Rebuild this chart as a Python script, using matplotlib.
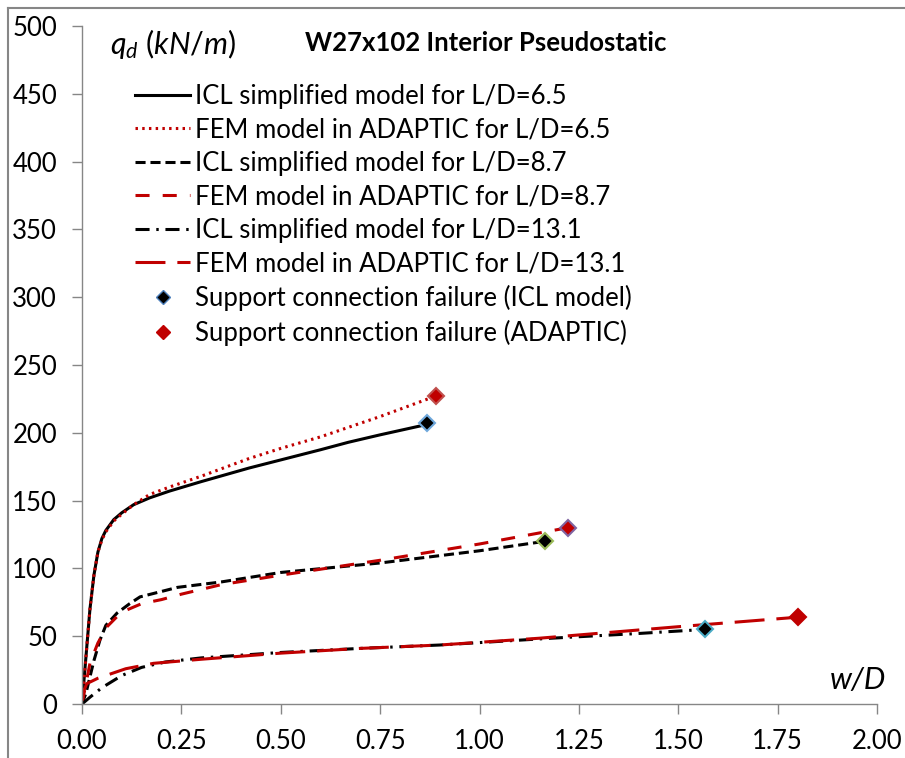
import numpy as np
import matplotlib
matplotlib.use("Agg")
import matplotlib.pyplot as plt
from matplotlib.lines import Line2D

plt.rcParams['font.family'] = ['Lato', 'DejaVu Sans']
plt.rcParams['mathtext.fontset'] = 'custom'
plt.rcParams['mathtext.it'] = 'Lato:italic'
plt.rcParams['mathtext.rm'] = 'Lato'

# curves (w/D, q_d in kN/m)
icl65_x = [0, 0.01, 0.02, 0.03, 0.04, 0.05, 0.06, 0.08, 0.10, 0.13, 0.17, 0.22, 0.30, 0.42, 0.50, 0.60, 0.67, 0.75, 0.85, 0.865]
icl65_y = [0, 35, 70, 95, 112, 122, 128, 136, 141, 147, 152, 157, 164, 174, 180, 187.5, 193, 198.5, 205, 206]
fem65_x = [0, 0.01, 0.02, 0.03, 0.04, 0.05, 0.06, 0.08, 0.10, 0.13, 0.17, 0.22, 0.30, 0.42, 0.50, 0.60, 0.67, 0.75, 0.875, 0.89]
fem65_y = [0, 35, 70, 95, 112, 121, 127, 135, 140, 147, 154.5, 160, 168, 181, 188.5, 197, 204, 212, 225.5, 227]

icl87_x = [0, 0.01, 0.02, 0.03, 0.045, 0.06, 0.088, 0.12, 0.146, 0.20, 0.24, 0.35, 0.50, 0.75, 1.0, 1.165]
icl87_y = [0, 8, 20, 32, 47, 58, 67, 74, 79, 83, 86, 90, 97, 104, 113, 120]
fem87_x = [0, 0.01, 0.02, 0.04, 0.063, 0.09, 0.11, 0.15, 0.20, 0.25, 0.35, 0.50, 0.75, 1.0, 1.222]
fem87_y = [0, 15, 30, 45, 57, 65, 69, 74, 77, 81, 88, 95, 106, 118, 130]

icl131_x = [0, 0.02, 0.05, 0.10, 0.15, 0.21, 0.30, 0.50, 0.70, 0.90, 1.18, 1.40, 1.567]
icl131_y = [0, 5, 12, 21, 27, 31, 34, 38, 41, 43.5, 48.5, 52, 55]
fem131_x = [0, 0.005, 0.012, 0.04, 0.07, 0.11, 0.18, 0.30, 0.50, 0.70, 0.90, 1.15, 1.50, 1.80]
fem131_y = [3, 10, 15, 19, 22, 26, 30, 33, 37.5, 41, 43.5, 48.5, 57, 64]

# support connection failure points
fail_icl_x = [0.868, 1.165, 1.567]
fail_icl_y = [207, 120, 55]
fail_icl_edge = ['#6fa8dc', '#9bbb59', '#4bacc6']
fail_fem_x = [0.89, 1.222, 1.80]
fail_fem_y = [227, 130, 64]
fail_fem_edge = ['#c0504d', '#8064a2', '#c00000']

labels = ["ICL simplified model for L/D=6.5",
          "FEM model in ADAPTIC for L/D=6.5",
          "ICL simplified model for L/D=8.7",
          "FEM model in ADAPTIC for L/D=8.7",
          "ICL simplified model for L/D=13.1",
          "FEM model in ADAPTIC for L/D=13.1",
          "Support connection failure (ICL model)",
          "Support connection failure (ADAPTIC)"]

red = '#c00000'
lw = 2.2

W, H = 905, 758
fig = plt.figure(figsize=(W / 100, H / 100), dpi=100)
ax = fig.add_axes([82 / W, 1 - 704 / H, (877 - 82) / W, (704 - 26) / H])

ax.plot(icl65_x, icl65_y, color='black', lw=lw, label=labels[0])
ax.plot(fem65_x, fem65_y, color=red, lw=lw, linestyle=(0, (0.8, 1.4)), label=labels[1])
ax.plot(icl87_x, icl87_y, color='black', lw=lw, linestyle=(0, (3.3, 1.6)), label=labels[2])
ax.plot(fem87_x, fem87_y, color=red, lw=lw, linestyle=(0, (4.6, 4.3)), label=labels[3])
ax.plot(icl131_x, icl131_y, color='black', lw=lw, linestyle=(0, (4.6, 2.2, 0.8, 2.2)), label=labels[4])
ax.plot(fem131_x, fem131_y, color=red, lw=lw, linestyle=(0, (9.8, 3.9)), label=labels[5])

for x, y, ec in zip(fail_icl_x, fail_icl_y, fail_icl_edge):
    ax.plot(x, y, marker='D', ms=8, mfc='black', mec=ec, mew=1.5, ls='none', zorder=5)
for x, y, ec in zip(fail_fem_x, fail_fem_y, fail_fem_edge):
    ax.plot(x, y, marker='D', ms=8, mfc=red, mec=ec, mew=1.5, ls='none', zorder=5)

ax.set_xlim(0, 2.0)
ax.set_ylim(0, 500)
ax.set_xticks(np.arange(0, 2.01, 0.25))
ax.set_xticklabels(["%.2f" % v for v in np.arange(0, 2.01, 0.25)])
ax.set_yticks(np.arange(0, 501, 50))

for s in ['top', 'right']:
    ax.spines[s].set_visible(False)
for s in ['left', 'bottom']:
    ax.spines[s].set_color('#868686')
    ax.spines[s].set_linewidth(1.0)
ax.tick_params(axis='both', direction='out', length=7, width=1.0, color='#868686',
               labelsize=18.5, labelcolor='black')
ax.tick_params(axis='y', pad=11)
ax.tick_params(axis='x', pad=11)

handles = ax.get_lines()[:6]
handles = list(handles) + [
    Line2D([], [], marker='D', ms=7, mfc='black', mec='#4f81bd', mew=1, ls='none'),
    Line2D([], [], marker='D', ms=7, mfc=red, mec=red, mew=1, ls='none'),
]
ax.legend(handles, labels, loc='upper left', bbox_to_anchor=(135 / W, 1 - 84 / H),
          bbox_transform=fig.transFigure, frameon=False, fontsize=18.5,
          handlelength=2.15, handletextpad=0.2, labelspacing=0.33, borderpad=0,
          borderaxespad=0)

fig.text(486 / W, 1 - 43 / H, "W27x102 Interior Pseudostatic", fontsize=18.5,
         fontweight='bold', ha='center', va='center')
fig.text(110 / W, 1 - 44 / H, r"$q_d\ (kN/m)$", fontsize=22, ha='left', va='center')
fig.text(858 / W, 1 - 680 / H, "w/D", fontsize=22, style='italic', ha='center', va='center')

# outer frame (only left and top visible in reference)
fig.add_artist(Line2D([8 / W, 8 / W], [0, 1 - 8 / H], transform=fig.transFigure,
                      color='#868686', lw=1.5))
fig.add_artist(Line2D([8 / W, 1], [1 - 8 / H, 1 - 8 / H], transform=fig.transFigure,
                      color='#868686', lw=1.5))

fig.savefig("out.png", dpi=100)
